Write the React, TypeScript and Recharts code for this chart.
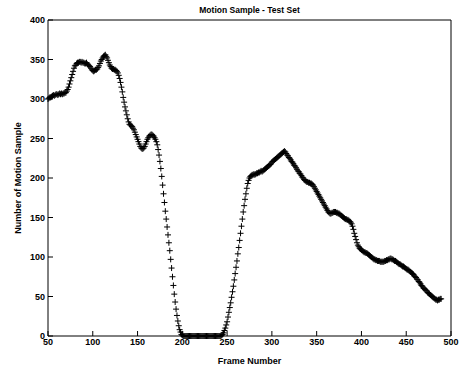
import React from 'react';
import { LineChart, Line, XAxis, YAxis } from 'recharts';

const chartTitle = 'Motion Sample - Test Set';
const xTitle = 'Frame Number';
const yTitle = 'Number of Motion Sample';
const xTicks = [50, 100, 150, 200, 250, 300, 350, 400, 450, 500];
const yTicks = [0, 50, 100, 150, 200, 250, 300, 350, 400];
const firstFrame = 50;

// frames 50-129
const segA = [
  300, 301, 302, 302, 303, 304, 305, 304, 305, 306,
  306, 305, 306, 307, 306, 307, 306, 307, 307, 308,
  308, 310, 312, 315, 319, 323, 327, 331, 335, 339,
  342, 343, 345, 346, 346, 347, 347, 346, 347, 346,
  346, 345, 345, 346, 344, 343, 342, 341, 339, 337,
  336, 335, 336, 337, 337, 338, 340, 342, 345, 348,
  350, 352, 354, 355, 356, 354, 352, 349, 346, 343,
  341, 339, 338, 338, 337, 337, 336, 335, 333, 330,
];
// frames 130-199
const segB = [
  326, 321, 315, 309, 302, 296, 290, 285, 280, 275,
  271, 268, 267, 266, 265, 263, 261, 258, 255, 252,
  249, 246, 243, 240, 238, 237, 237, 238, 240, 243,
  246, 249, 251, 253, 254, 255, 255, 254, 253, 251,
  249, 246, 242, 236, 229, 221, 212, 202, 191, 180,
  169, 158, 148, 138, 128, 118, 108, 97, 86, 75,
  64, 53, 43, 34, 26, 19, 13, 8, 5, 2,
];
// frames 200-279
const segC = [
  1, 0, 0, 0, 0, 0, 0, 0, 0, 0,
  0, 0, 0, 0, 0, 0, 0, 0, 0, 0,
  0, 0, 0, 0, 0, 0, 0, 0, 0, 0,
  0, 0, 0, 0, 0, 0, 0, 0, 0, 0,
  0, 0, 0, 0, 1, 2, 4, 7, 10, 14,
  18, 24, 30, 36, 42, 49, 56, 63, 71, 79,
  87, 95, 104, 112, 121, 130, 139, 148, 157, 165,
  173, 180, 187, 193, 197, 200, 202, 203, 204, 204,
];
// frames 280-379
const segD = [
  205, 204, 205, 206, 206, 207, 207, 208, 209, 208,
  209, 210, 211, 212, 213, 214, 215, 216, 217, 218,
  220, 221, 222, 223, 224, 225, 226, 227, 228, 229,
  230, 231, 232, 233, 234, 233, 231, 229, 228, 226,
  225, 223, 221, 220, 218, 216, 215, 213, 211, 209,
  208, 206, 205, 203, 201, 200, 198, 197, 196, 195,
  195, 194, 194, 193, 193, 192, 191, 189, 187, 185,
  183, 181, 179, 177, 175, 173, 171, 169, 167, 165,
  163, 161, 159, 157, 156, 155, 155, 156, 156, 157,
  157, 157, 156, 156, 155, 155, 154, 153, 152, 151,
];
// frames 380-489
const segE = [
  150, 149, 148, 148, 147, 147, 146, 145, 144, 142,
  139, 135, 130, 126, 122, 118, 115, 113, 111, 110,
  109, 108, 107, 106, 106, 105, 105, 104, 103, 102,
  101, 100, 99, 98, 97, 97, 96, 96, 95, 95,
  95, 94, 94, 94, 94, 94, 95, 95, 96, 96,
  97, 97, 98, 98, 97, 97, 96, 95, 95, 94,
  93, 92, 91, 91, 90, 89, 88, 88, 87, 86,
  85, 84, 84, 83, 82, 81, 80, 79, 78, 76,
  75, 74, 72, 71, 69, 68, 66, 64, 63, 61,
  60, 59, 58, 57, 55, 54, 53, 52, 51, 50,
  49, 48, 47, 46, 46, 45, 46, 46, 47, 47,
];

const counts = [...segA, ...segB, ...segC, ...segD, ...segE];
const data = counts.map((v, i) => ({ frame: firstFrame + i, count: v }));

const FONT = '"Liberation Sans", Arial, Helvetica, sans-serif';

const PlusDot = (props: any) => {
  const { cx, cy } = props;
  if (cx == null || cy == null) return null;
  return (
    <path
      d={`M${cx - 3},${cy}H${cx + 3}M${cx},${cy - 3}V${cy + 3}`}
      stroke="#000"
      strokeWidth={1}
      fill="none"
    />
  );
};

const tickStyle = { fill: '#000', fontSize: 9, fontWeight: 'bold', fontFamily: FONT };

export default function App() {
  return (
    <div style={{ position: 'absolute', left: 0, top: 0, width: 461, height: 372, background: '#fff' }}>
      <LineChart width={461} height={372} data={data} margin={{ top: 0, right: 0, bottom: 0, left: 0 }}>
        <XAxis
          dataKey="frame"
          type="number"
          domain={[50, 500]}
          ticks={xTicks}
          height={36}
          stroke="#000"
          tickSize={-5}
          tickMargin={8}
          tick={tickStyle}
          interval={0}
          label={{
            content: (p: any) => (
              <text
                x={p.viewBox.x + p.viewBox.width / 2}
                y={364}
                textAnchor="middle"
                fontFamily={FONT}
                fontWeight="bold"
                fontSize={9}
                fill="#000"
              >
                {xTitle}
              </text>
            ),
          }}
        />
        <XAxis
          xAxisId="top"
          orientation="top"
          dataKey="frame"
          type="number"
          domain={[50, 500]}
          ticks={xTicks}
          height={20}
          stroke="#000"
          tickSize={-5}
          tick={false}
          interval={0}
          label={{
            content: (p: any) => (
              <text
                x={p.viewBox.x + p.viewBox.width / 2}
                y={13}
                textAnchor="middle"
                fontFamily={FONT}
                fontWeight="bold"
                fontSize={8.5}
                fill="#000"
              >
                {chartTitle}
              </text>
            ),
          }}
        />
        <YAxis
          type="number"
          domain={[0, 400]}
          ticks={yTicks}
          width={48}
          stroke="#000"
          tickSize={-5}
          tickMargin={8}
          tick={tickStyle}
          interval={0}
          label={{
            content: (p: any) => {
              const cy = p.viewBox.y + p.viewBox.height / 2;
              return (
                <text
                  x={20.5}
                  y={cy}
                  transform={`rotate(-90, 20.5, ${cy})`}
                  textAnchor="middle"
                  fontFamily={FONT}
                  fontWeight="bold"
                  fontSize={9}
                  fill="#000"
                >
                  {yTitle}
                </text>
              );
            },
          }}
        />
        <YAxis
          yAxisId="right"
          orientation="right"
          type="number"
          domain={[0, 400]}
          ticks={yTicks}
          width={10}
          stroke="#000"
          tickSize={-5}
          tick={false}
          interval={0}
        />
        <Line
          dataKey="count"
          stroke="none"
          dot={<PlusDot />}
          activeDot={false}
          isAnimationActive={false}
        />
      </LineChart>
    </div>
  );
}
